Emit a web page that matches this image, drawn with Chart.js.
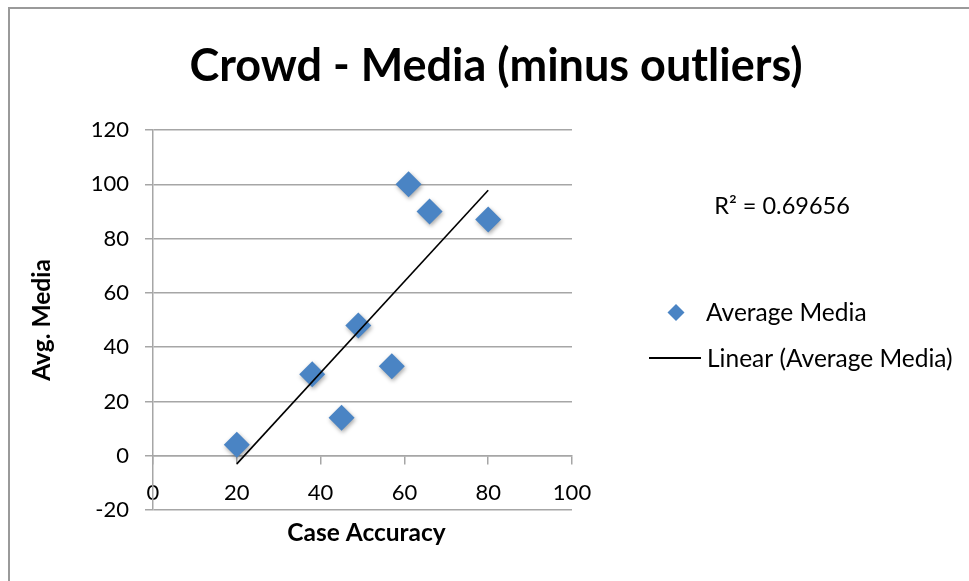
<!DOCTYPE html>
<html>
<head>
<meta charset="utf-8">
<script src="https://cdn.jsdelivr.net/npm/chart.js@4.4.1/dist/chart.umd.min.js"></script>
<style>
  html, body { margin: 0; padding: 0; background: #fff; }
  #wrap { width: 969px; height: 581px; position: relative; }
</style>
</head>
<body>
<div id="wrap"><canvas id="canva"></canvas></div>
<script>
// data
var caseAccuracy = [20, 38, 45, 49, 57, 61, 66, 80];
var avgMedia = [4, 30, 14, 48, 33, 100, 90, 87];
var xTicks = [0, 20, 40, 60, 80, 100];
var yTicks = [-20, 0, 20, 40, 60, 80, 100, 120];

var chartTitle = 'Crowd - Media (minus outliers)';
var xTitle = 'Case Accuracy';
var yTitle = 'Avg. Media';
var seriesLabel = 'Average Media';
var trendLabel = 'Linear (Average Media)';
var r2Label = 'R\u00B2 = 0.69656';

var FONT = 'Lato, "Open Sans", sans-serif';
var BLUE = '#4a84c4';
var GRID = '#a6a6a6';

// least squares trend line over the data range
var n = caseAccuracy.length;
var mx = caseAccuracy.reduce(function(a, b) { return a + b; }, 0) / n;
var my = avgMedia.reduce(function(a, b) { return a + b; }, 0) / n;
var sxy = 0, sxx = 0;
for (var i = 0; i < n; i++) {
  sxy += (caseAccuracy[i] - mx) * (avgMedia[i] - my);
  sxx += (caseAccuracy[i] - mx) * (caseAccuracy[i] - mx);
}
var slope = sxy / sxx;
var icpt = my - slope * mx;
var xMin = Math.min.apply(null, caseAccuracy);
var xMax = Math.max.apply(null, caseAccuracy);
var trend = [
  { x: xMin, y: icpt + slope * xMin },
  { x: xMax, y: icpt + slope * xMax }
];

var points = caseAccuracy.map(function(x, i) { return { x: x, y: avgMedia[i] }; });

Chart.defaults.font.family = FONT;
Chart.defaults.font.size = 22;
Chart.defaults.color = '#000';

// frame, titles, R2 text and legend
var decor = {
  id: 'decor',
  beforeDraw: function(chart) {
    var c = chart.ctx;
    c.save();
    c.fillStyle = '#fff';
    c.fillRect(0, 0, chart.width, chart.height);
    c.strokeStyle = '#9a9a9a';
    c.lineWidth = 2;
    c.beginPath();
    c.moveTo(9, chart.height);
    c.lineTo(9, 8);
    c.lineTo(chart.width, 8);
    c.stroke();
    c.restore();
  },
  beforeDatasetDraw: function(chart, args) {
    if (args.index === 1) {
      chart.ctx.save();
      chart.ctx.shadowColor = 'rgba(0,0,0,0.35)';
      chart.ctx.shadowBlur = 4;
      chart.ctx.shadowOffsetX = 1;
      chart.ctx.shadowOffsetY = 2;
    }
  },
  afterDatasetDraw: function(chart, args) {
    if (args.index === 1) chart.ctx.restore();
  },
  afterDraw: function(chart) {
    var c = chart.ctx;
    var area = chart.chartArea;
    c.save();
    c.fillStyle = '#000';
    c.textAlign = 'center';
    c.textBaseline = 'alphabetic';

    c.font = 'bold 45px ' + FONT;
    c.fillText(chartTitle, 496, 81);

    c.font = 'bold 24.5px ' + FONT;
    c.fillText(xTitle, (area.left + area.right) / 2 + 4, 541);

    c.save();
    c.translate(50, (area.top + area.bottom) / 2);
    c.rotate(-Math.PI / 2);
    c.fillText(yTitle, 0, 0);
    c.restore();

    c.font = '23.5px ' + FONT;
    c.fillText(r2Label, 782, 214);

    // legend
    c.font = '24.5px ' + FONT;
    c.textAlign = 'left';
    c.textBaseline = 'middle';
    var ds = chart.data.datasets;
    c.fillStyle = ds[1].backgroundColor;
    c.beginPath();
    c.moveTo(676, 304);
    c.lineTo(684.5, 312.5);
    c.lineTo(676, 321);
    c.lineTo(667.5, 312.5);
    c.closePath();
    c.fill();
    c.fillStyle = '#000';
    c.fillText(ds[1].label, 706, 313);

    c.strokeStyle = ds[0].borderColor;
    c.lineWidth = 2;
    c.beginPath();
    c.moveTo(649, 358);
    c.lineTo(701, 358);
    c.stroke();
    c.fillText(ds[0].label, 707, 359);
    c.restore();
  }
};

new Chart(document.getElementById('canva'), {
  type: 'scatter',
  data: {
    datasets: [
      {
        label: trendLabel,
        type: 'line',
        data: trend,
        borderColor: '#000',
        borderWidth: 1.6,
        pointRadius: 0,
        fill: false
      },
      {
        label: seriesLabel,
        data: points,
        pointStyle: 'rectRot',
        pointRadius: 13,
        pointHoverRadius: 13,
        backgroundColor: BLUE,
        borderColor: BLUE,
        borderWidth: 0
      }
    ]
  },
  options: {
    responsive: true,
    maintainAspectRatio: false,
    animation: false,
    events: [],
    layout: {
      padding: { left: 63, right: 397, top: 130, bottom: 71 }
    },
    plugins: {
      legend: { display: false },
      title: { display: false },
      tooltip: { enabled: false }
    },
    scales: {
      x: {
        type: 'linear',
        position: { y: 0 },
        min: xTicks[0],
        max: xTicks[xTicks.length - 1],
        afterBuildTicks: function(s) { s.ticks = xTicks.map(function(v) { return { value: v }; }); },
        ticks: { padding: 16, color: '#000', font: { size: 22 } },
        grid: { drawOnChartArea: false, drawTicks: true, tickLength: 8, color: GRID, lineWidth: 1.5 },
        border: { color: GRID, width: 1.5 }
      },
      y: {
        min: yTicks[0],
        max: yTicks[yTicks.length - 1],
        afterBuildTicks: function(s) { s.ticks = yTicks.map(function(v) { return { value: v }; }); },
        afterFit: function(s) { s.width = 90; },
        ticks: { padding: 16, color: '#000', font: { size: 22 } },
        grid: { color: GRID, lineWidth: 1.5, tickLength: 8 },
        border: { color: GRID, width: 1.5 }
      }
    }
  },
  plugins: [decor]
});
</script>
</body>
</html>
